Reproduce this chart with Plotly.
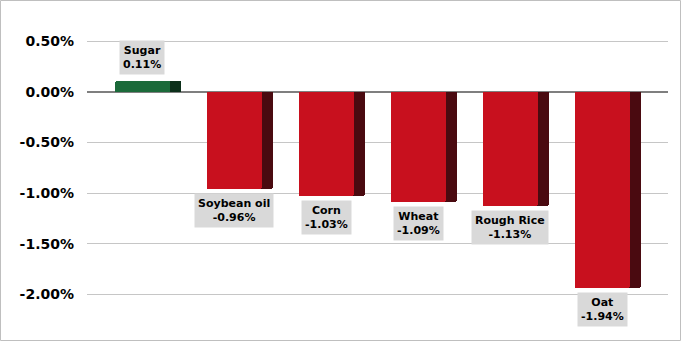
import plotly.graph_objects as go

categories = ["Sugar", "Soybean oil", "Corn", "Wheat", "Rough Rice", "Oat"]
values = [0.11, -0.96, -1.03, -1.09, -1.13, -1.94]
tick_vals = [0.5, 0.0, -0.5, -1.0, -1.5, -2.0]
tick_text = ["0.50%", "0.00%", "-0.50%", "-1.00%", "-1.50%", "-2.00%"]

front_colors = ["#1B6A3A" if v > 0 else "#C8101E" for v in values]
side_colors = ["#0C2F1A" if v > 0 else "#4A0A10" for v in values]

W, H = 681, 341
ML, MR, MT, MB = 87, 13, 17, 21
xs = list(range(len(categories)))

fig = go.Figure()
# side (depth) face
fig.add_trace(go.Bar(x=xs, y=values, width=0.13, offset=0.229,
                     marker=dict(color=side_colors, line=dict(width=0), cornerradius=2),
                     hoverinfo="skip", showlegend=False))
# front face
fig.add_trace(go.Bar(x=xs, y=values, width=0.598, offset=-0.359,
                     marker=dict(color=front_colors, line=dict(width=0), cornerradius=2),
                     showlegend=False))

for i, (c, v) in enumerate(zip(categories, values)):
    fig.add_annotation(x=i - 0.06, y=v, xref="x", yref="y",
                       text=f"<b>{c}<br>{v:.2f}%</b>", showarrow=False,
                       yanchor="bottom" if v > 0 else "top",
                       yshift=6 if v > 0 else -4,
                       bgcolor="#D9D9D9", borderpad=3,
                       font=dict(family="DejaVu Sans", size=11, color="#000000"),
                       align="center")

pw = W - ML - MR
ph = H - MT - MB
fig.add_shape(type="rect", xref="paper", yref="paper",
              x0=(0.5 - ML) / pw, x1=(W - 0.5 - ML) / pw,
              y0=-(H - 0.5 - MT - ph) / ph, y1=(MT - 0.5) / ph + 1,
              line=dict(color="#BFBFBF", width=1), layer="below")

fig.update_layout(
    width=W, height=H, margin=dict(l=ML, r=MR, t=MT, b=MB),
    paper_bgcolor="white", plot_bgcolor="white",
    barmode="overlay", bargap=0,
    xaxis=dict(range=[-0.663, 5.652], showticklabels=False, showgrid=False,
               zeroline=False, showline=False, fixedrange=True),
    yaxis=dict(range=[-2.253, 0.740], tickvals=tick_vals, ticktext=tick_text,
               showgrid=True, gridcolor="#C6C6C6", gridwidth=1,
               zeroline=True, zerolinecolor="#7F7F7F", zerolinewidth=1.5,
               showline=False, ticks="", ticklabelstandoff=12,
               tickfont=dict(family="DejaVu Sans", size=14, color="#000000", weight="bold")),
)

fig.write_html("out.html")
